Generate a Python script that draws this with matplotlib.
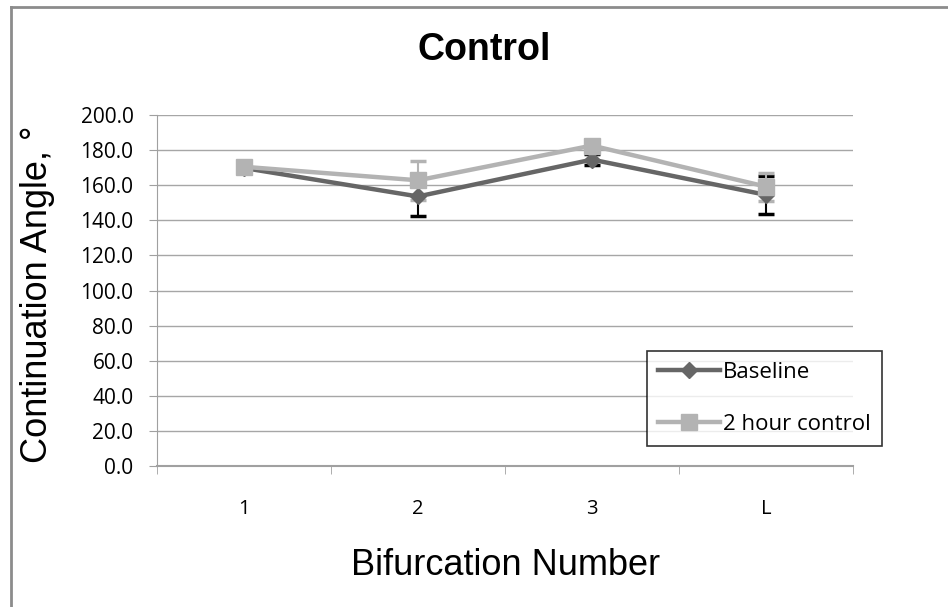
import matplotlib.pyplot as plt
import numpy as np

# data
categories = ["1", "2", "3", "L"]
baseline = [169.8, 153.6, 174.6, 154.5]
baseline_err = [2.0, 11.0, 3.0, 11.0]
control = [170.5, 162.8, 182.6, 159.2]
control_err = [2.0, 11.0, 2.0, 8.0]

plt.rcParams['font.family'] = ['Liberation Sans', 'DejaVu Sans']
tick_font = ['Open Sans', 'DejaVu Sans']

fig = plt.figure(figsize=(9.48, 6.07), dpi=100)
# chart border: only left and top edges are visible (cropped screenshot)
fig.add_artist(plt.Line2D([0.0121, 0.0121], [0, 0.9885], transform=fig.transFigure,
                          color='#8c8c8c', linewidth=2))
fig.add_artist(plt.Line2D([0.0121, 1], [0.9885, 0.9885], transform=fig.transFigure,
                          color='#8c8c8c', linewidth=2))
ax = fig.add_axes([0.1656, 0.2323, 0.7342, 0.5782])

x = np.arange(len(categories))

ax.errorbar(x, baseline, yerr=baseline_err, fmt='none', ecolor='black', elinewidth=1.5,
            capsize=6, capthick=2.5, zorder=2)
ax.errorbar(x, control, yerr=control_err, fmt='none', ecolor='#b3b3b3', elinewidth=1.5,
            capsize=6, capthick=2.5, zorder=2)
ax.plot(x, baseline, color='#666666', linewidth=3.2, marker='D', markersize=8.5,
        label='Baseline', zorder=3)
ax.plot(x, control, color='#b3b3b3', linewidth=3.2, marker='s', markersize=11,
        label='2 hour control', zorder=4)

ax.set_xlim(-0.5, 3.5)
ax.set_ylim(0, 200)
ax.set_yticks(np.arange(0, 201, 20))
ax.set_yticklabels([f"{v:.1f}" for v in np.arange(0, 201, 20)])
ax.set_xticks(x)
ax.set_xticklabels(categories)
ax.set_xticks(np.arange(-0.5, 3.6, 1), minor=True)
ax.tick_params(axis='x', which='major', length=0, pad=24, labelsize=14.5)
ax.tick_params(axis='x', which='minor', length=6, color='#a0a0a0', direction='out')
ax.tick_params(axis='y', length=6, color='#a0a0a0', labelsize=15, pad=11)
for lbl in ax.get_xticklabels() + ax.get_yticklabels():
    lbl.set_family(tick_font)

ax.grid(axis='y', color='#a6a6a6', linewidth=1)
ax.set_axisbelow(True)
for s in ['top', 'right']:
    ax.spines[s].set_visible(False)
ax.spines['left'].set_color('#a0a0a0')
ax.spines['bottom'].set_color('#a0a0a0')
ax.spines['bottom'].set_linewidth(1.5)

fig.text(0.511, 0.918, "Control", fontsize=27, fontweight='bold', ha='center', va='center')
fig.text(0.533, 0.069, "Bifurcation Number", fontsize=26, ha='center', va='center')
fig.text(0.040, 0.515, "Continuation Angle, °", fontsize=26, rotation=90,
         ha='center', va='center')

leg = fig.legend(loc='upper left', bbox_to_anchor=(0.682, 0.422), frameon=True,
                 fancybox=False, edgecolor='black', handlelength=2.8,
                 handletextpad=0.15, labelspacing=1.4, borderpad=0.5, borderaxespad=0,
                 prop={'family': tick_font, 'size': 16})
leg.get_frame().set_linewidth(1.2)

fig.savefig("out.png", dpi=100)
